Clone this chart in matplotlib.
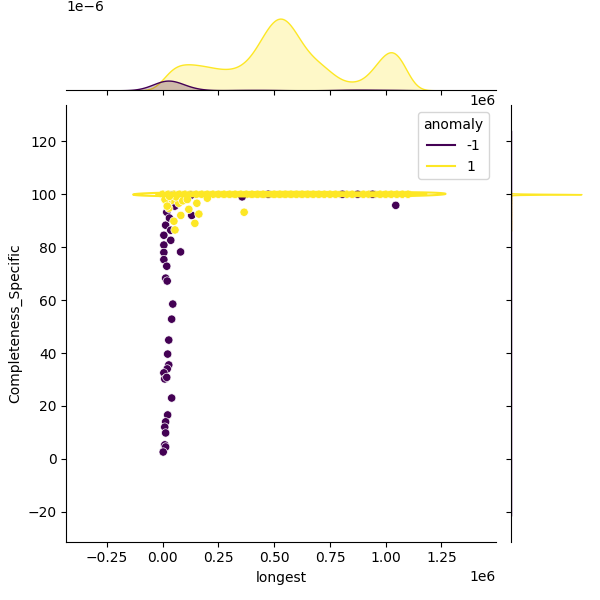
import numpy as np
import pandas as pd
import seaborn as sns
import matplotlib
matplotlib.use('Agg')
import matplotlib.pyplot as plt

# anomaly == -1
out_longest = [50000, 18000, 13000, 36000, 5000, 36000, 5000, 5000, 80000, 5000,
               18000, 13000, 20000, 45000, 40000, 27000, 22000, 27000, 20000, 5000,
               9000, 18000, 40000, 22000, 13000, 9000, 13000, 9000, 13000, 2000,
               126000, 54000, 30000, 40000, 70000, 130000,
               356000, 473000, 806000, 874000, 941000, 1045000]
out_complete = [98.9, 93.2, 88.3, 86.4, 84.5, 82.6, 80.8, 78.0, 78.2, 75.3,
                72.8, 68.3, 67.2, 58.5, 52.8, 44.9, 39.6, 35.5, 34.0, 32.5,
                30.2, 30.8, 23.0, 16.6, 14.0, 12.0, 9.8, 5.3, 4.5, 2.6,
                99.6, 95.5, 91.0, 99.5, 97.8, 92.0,
                99.0, 100.0, 100.0, 100.0, 100.0, 95.8]

# anomaly == 1, rows below 100 %
in_longest = [40000, 72000, 153000, 117000, 27000, 81000, 162000, 50000, 144000,
              365000, 18000, 100000, 55000,
              10000, 60000, 90000, 20000, 110000, 200000, 30000]
in_complete = [97.7, 96.6, 96.6, 94.3, 94.7, 92.0, 92.5, 89.8, 89.0,
               93.2, 97.0, 98.5, 86.5,
               98.0, 99.0, 97.5, 95.5, 98.0, 98.5, 99.2]

# anomaly == 1 at exactly 100 %: longest (in thousands) and number of rows there
line_longest_k = [0, 25, 50, 75, 100, 125, 150, 175, 200, 225, 250, 275, 300, 325,
                  350, 375, 400, 425, 450, 475, 500, 525, 550, 575, 600, 625, 650,
                  675, 700, 725, 750, 775, 800, 825, 850, 875, 900, 925, 950, 975,
                  1000, 1025, 1050, 1075, 1100]
line_counts = [4, 7, 10, 11, 12, 12, 12, 12, 12, 12, 11, 11, 11, 11,
               12, 14, 18, 23, 29, 35, 39, 41, 40, 36, 30, 24, 20,
               17, 15, 13, 10, 7, 5, 4, 4, 4, 5, 8, 12, 17,
               21, 24, 23, 17, 8]

line_x = np.repeat(np.array(line_longest_k) * 1000, line_counts)

# draw order: the 100 % line first, then the anomalies, then the other normal rows
df = pd.DataFrame({
    'longest': np.concatenate([line_x, out_longest, in_longest]),
    'Completeness_Specific': np.concatenate([np.full(len(line_x), 100.0),
                                             out_complete, in_complete]),
    'anomaly': [1] * len(line_x) + [-1] * len(out_longest) + [1] * len(in_longest),
})

g = sns.jointplot(data=df, x='longest', y='Completeness_Specific', hue='anomaly',
                  palette='viridis', marginal_kws=dict(bw_adjust=0.5))
g.plot_joint(sns.kdeplot)
g.ax_joint.set_xlim(-432000, 1495000)
g.ax_joint.set_ylim(-31.3, 133.6)

plt.savefig('out.png', dpi=100)
